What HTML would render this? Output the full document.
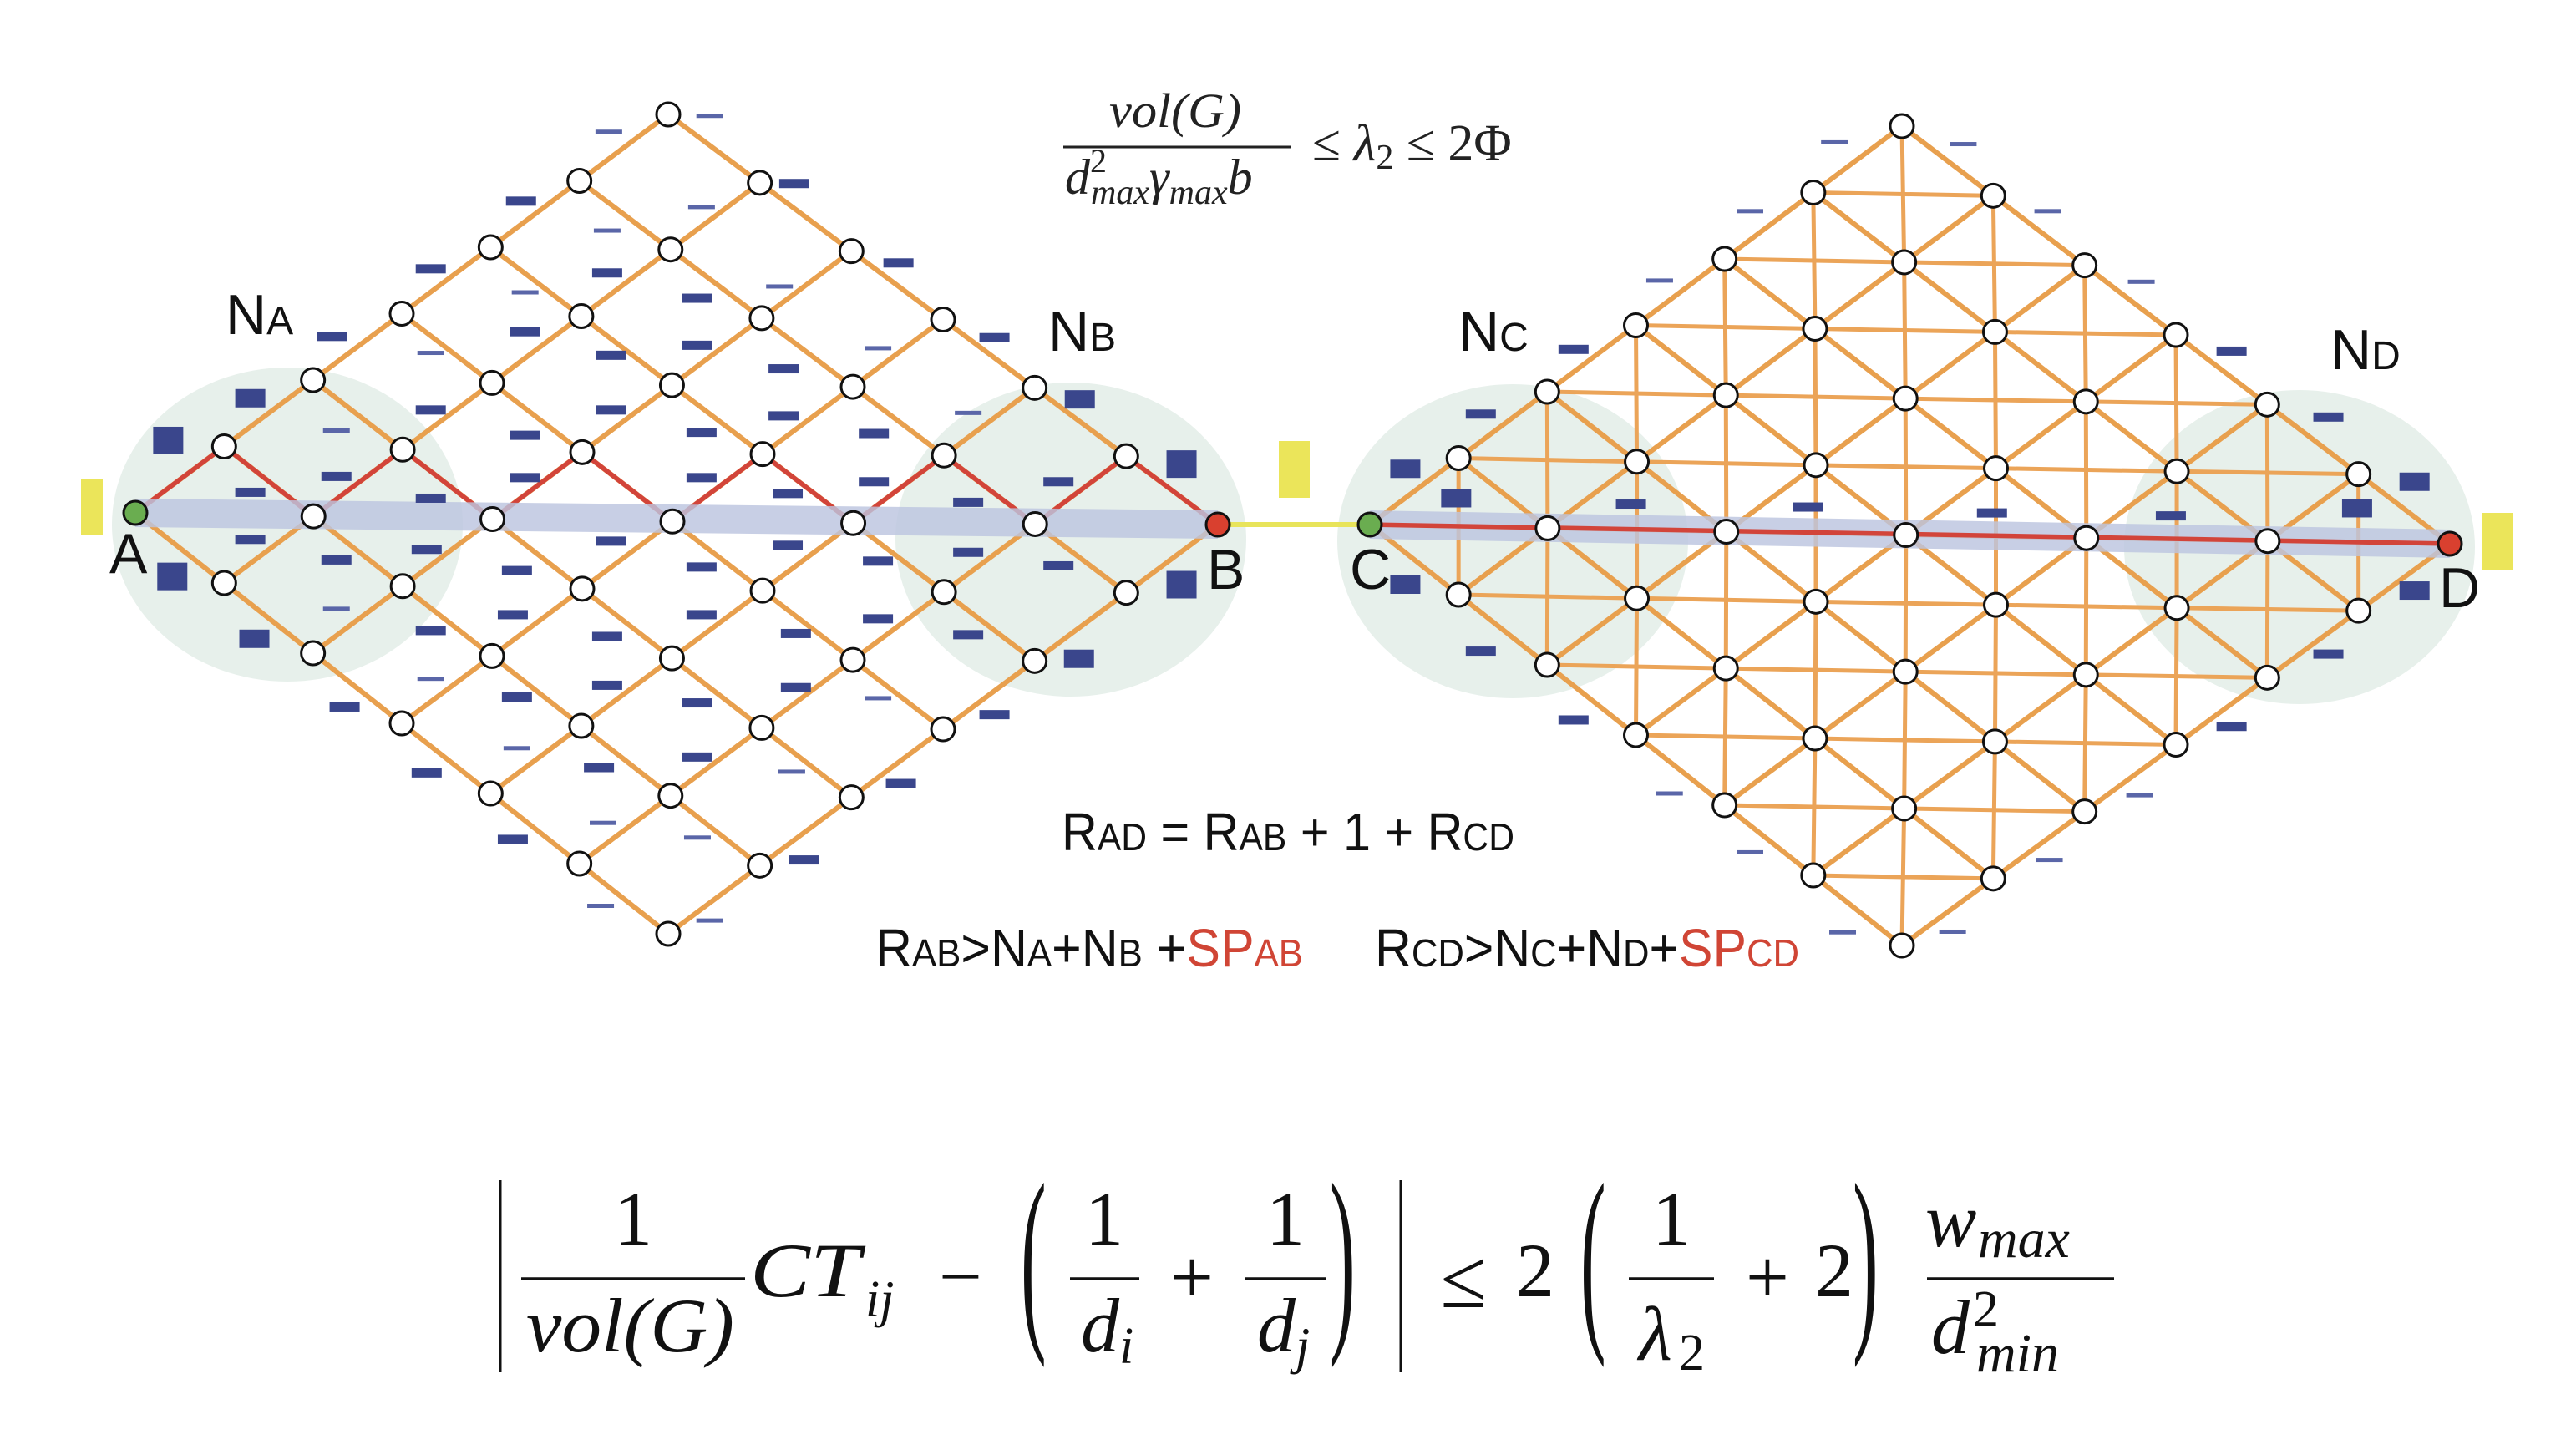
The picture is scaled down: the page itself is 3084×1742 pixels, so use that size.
<!DOCTYPE html>
<html><head><meta charset="utf-8"><style>
html,body{margin:0;padding:0;background:#fff;}
svg{display:block;}
.ser{font-family:"Liberation Serif",serif;}
.it{font-style:italic;}
.sans{font-family:"Liberation Sans Narrow","Liberation Sans",sans-serif;}
</style></head><body>
<svg id="fig" xmlns="http://www.w3.org/2000/svg" width="3084" height="1742" viewBox="0 0 3084 1742">
<rect width="3084" height="1742" fill="#fff"/>
<g id="bg"></g>
<g id="edges"></g>
<g id="paths"></g>
<g id="nodes"></g>
<g id="dashes"></g>

<!-- labels -->
<g class="sans" font-size="68" fill="#111">
<text x="270" y="400">N<tspan font-size="48">A</tspan></text>
<text x="1255" y="420">N<tspan font-size="48">B</tspan></text>
<text x="1746" y="420">N<tspan font-size="48">C</tspan></text>
<text x="2790" y="442">N<tspan font-size="48">D</tspan></text>
<text x="131" y="686">A</text>
<text x="1445" y="705">B</text>
<text x="1616" y="705">C</text>
<text x="2920" y="727">D</text>
</g>

<!-- top formula -->
<g class="ser" fill="#222">
<text class="it" x="1328" y="152" font-size="58" textLength="158" lengthAdjust="spacingAndGlyphs">vol(G)</text>
<line x1="1273" y1="176" x2="1546" y2="176" stroke="#222" stroke-width="3"/>
<text class="it" x="1275" y="232" font-size="60">d<tspan font-style="normal" font-size="40" dy="-26">2</tspan><tspan x="1306" dy="38" font-size="42">max</tspan><tspan dy="-12" font-size="60">γ</tspan><tspan dy="12" font-size="42">max</tspan><tspan dy="-12" font-size="60">b</tspan></text>
<text x="1571" y="192" font-size="62">≤ <tspan class="it">λ</tspan><tspan font-size="42" dy="10">2</tspan><tspan dy="-10"> ≤ 2Φ</tspan></text>
</g>

<!-- resistance text -->
<g class="sans" fill="#111">
<text x="1271" y="1018" font-size="64" textLength="542" lengthAdjust="spacingAndGlyphs">R<tspan font-size="46">AD</tspan> = R<tspan font-size="46">AB</tspan> + 1 + R<tspan font-size="46">CD</tspan></text>
<text x="1048" y="1157" font-size="64" textLength="512" lengthAdjust="spacingAndGlyphs">R<tspan font-size="46">AB</tspan>&gt;N<tspan font-size="46">A</tspan>+N<tspan font-size="46">B</tspan> +<tspan fill="#d04535">SP</tspan><tspan fill="#d04535" font-size="46">AB</tspan></text>
<text x="1646" y="1157" font-size="64" textLength="508" lengthAdjust="spacingAndGlyphs">R<tspan font-size="46">CD</tspan>&gt;N<tspan font-size="46">C</tspan>+N<tspan font-size="46">D</tspan>+<tspan fill="#d04535">SP</tspan><tspan fill="#d04535" font-size="46">CD</tspan></text>
</g>

<!-- bottom formula -->
<g class="ser" fill="#111" font-size="92">
<line x1="599" y1="1413" x2="599" y2="1643" stroke="#111" stroke-width="3"/>
<text x="758" y="1490" text-anchor="middle">1</text>
<line x1="624" y1="1531" x2="892" y2="1531" stroke="#111" stroke-width="3.5"/>
<text class="it" x="630" y="1618" textLength="249" lengthAdjust="spacingAndGlyphs">vol(G)</text>
<text class="it" x="898" y="1552" textLength="132" lengthAdjust="spacingAndGlyphs">CT</text>
<text class="it" x="1036" y="1576" font-size="62">ij</text>
<text x="1150" y="1559" text-anchor="middle">−</text>
<text transform="translate(1222,1585) scale(1,2.65)">(</text>
<text x="1322" y="1490" text-anchor="middle">1</text>
<line x1="1281" y1="1531" x2="1364" y2="1531" stroke="#111" stroke-width="3.5"/>
<text class="it" x="1294" y="1618">d</text><text class="it" x="1340" y="1632" font-size="62">i</text>
<text x="1427" y="1560" text-anchor="middle">+</text>
<text x="1539" y="1490" text-anchor="middle">1</text>
<line x1="1491" y1="1531" x2="1587" y2="1531" stroke="#111" stroke-width="3.5"/>
<text class="it" x="1505" y="1618">d</text><text class="it" x="1551" y="1632" font-size="62">j</text>
<text transform="translate(1592,1585) scale(1,2.65)">)</text>
<line x1="1677" y1="1413" x2="1677" y2="1643" stroke="#111" stroke-width="3"/>
<text x="1752" y="1565" text-anchor="middle" font-size="100">≤</text>
<text x="1838" y="1552" text-anchor="middle">2</text>
<text transform="translate(1892,1585) scale(1,2.65)">(</text>
<text x="2001" y="1490" text-anchor="middle">1</text>
<line x1="1950" y1="1531" x2="2052" y2="1531" stroke="#111" stroke-width="3.5"/>
<text class="it" x="1962" y="1628">λ</text><text x="2010" y="1640" font-size="62">2</text>
<text x="2116" y="1560" text-anchor="middle">+</text>
<text x="2196" y="1552" text-anchor="middle">2</text>
<text transform="translate(2218,1585) scale(1,2.65)">)</text>
<text class="it" x="2305" y="1492">w</text>
<text class="it" x="2368" y="1505" font-size="66">max</text>
<line x1="2307" y1="1531" x2="2531" y2="1531" stroke="#111" stroke-width="3.5"/>
<text class="it" x="2312" y="1620">d</text>
<text x="2362" y="1588" font-size="62">2</text>
<text class="it" x="2366" y="1642" font-size="66">min</text>
</g>
</svg>
<script>
// Graph structure data
const gridSize = 6; // 7x7 nodes
const leftCorners = [[162,614],[800,137],[1458,628],[800,1118]]; // A, top, B, bottom
const rightCorners = [[1640,628],[2277,151],[2933,651],[2277,1132]]; // C, top, D, bottom
const leftPathSteps = [[0,0],[1,0],[1,1],[2,1],[2,2],[3,2],[3,3],[4,3],[4,4],[5,4],[5,5],[6,5],[6,6]];
// dashes (zoom coords) [x,y,type]  type: 0 thin,1 thick,2 big,3 square
const leftDashes = [[865,55,0],[742,82,0],[968,170,1],[635,200,1],[855,210,0],[740,250,0],[740,322,1],[525,315,1],[1095,305,1],[640,355,0],[850,365,1],[950,345,0],[405,430,1],[640,422,1],[745,462,1],[850,445,1],[525,458,0],[955,485,1],[1070,450,0],[1212,432,1],[305,535,2],[525,555,1],[745,555,1],[955,565,1],[410,590,0],[640,598,1],[855,593,1],[1065,595,1],[1180,560,0],[1316,537,2],[205,607,3],[410,668,1],[525,705,1],[640,670,1],[855,670,1],[960,697,1],[1065,677,1],[1290,677,1],[1180,712,1],[1440,647,3],[305,695,1],[305,775,1],[410,810,1],[520,792,1],[745,778,1],[960,785,1],[1070,812,1],[1180,797,1],[1290,820,1],[210,838,3],[1440,852,3],[410,893,0],[630,828,1],[855,822,1],[625,903,1],[855,903,1],[525,930,1],[740,940,1],[970,935,1],[1070,910,1],[1180,937,1],[310,944,2],[1315,978,2],[420,1060,1],[525,1012,0],[630,1043,1],[740,1023,1],[850,1053,1],[970,1027,1],[1070,1045,0],[1212,1073,1],[630,1130,0],[730,1163,1],[850,1145,1],[520,1172,1],[965,1170,0],[1098,1190,1],[735,1257,0],[850,1282,0],[625,1285,1],[980,1320,1],[732,1398,0],[865,1423,0]];
const rightDashes = [[668,100,0],[825,103,0],[565,217,0],[928,217,0],[455,335,0],[1042,337,0],[350,452,1],[1152,455,1],[237,562,1],[1270,567,1],[145,655,2],[207,705,2],[420,715,1],[636,720,1],[860,730,1],[1078,735,1],[1375,677,2],[1305,722,2],[145,852,2],[1375,862,2],[237,965,1],[1270,970,1],[350,1082,1],[1152,1093,1],[467,1207,0],[1040,1210,0],[565,1307,0],[930,1320,0],[678,1443,0],[812,1442,0]];

const NS='http://www.w3.org/2000/svg';
function mk(tag, parent, attrs){const e=document.createElementNS(NS,tag);for(const k in attrs)e.setAttribute(k,attrs[k]);parent.appendChild(e);return e;}
function pos(c,u,v){const s=u/gridSize,t=v/gridSize;
 return [(1-s)*(1-t)*c[0][0]+s*(1-t)*c[1][0]+(1-s)*t*c[3][0]+s*t*c[2][0],
         (1-s)*(1-t)*c[0][1]+s*(1-t)*c[1][1]+(1-s)*t*c[3][1]+s*t*c[2][1]];}
const bg=document.getElementById('bg'),edges=document.getElementById('edges'),paths=document.getElementById('paths'),nodesG=document.getElementById('nodes'),dashG=document.getElementById('dashes');

[[344,628],[1282,646],[1811,648],[2753,655]].forEach((c,i)=>{
 const e=mk('ellipse',bg,{cx:c[0],cy:c[1],rx:210,ry:188,fill:'#e7f0eb'});
 
 
});
[[97,573,26,68],[1531,528,37,68],[2972,614,37,68]].forEach((r,i)=>{
 const e=mk('rect',bg,{x:r[0],y:r[1],width:r[2],height:r[3],fill:'#ebe55a'});
 
 
});
const br=mk('line',bg,{x1:leftCorners[2][0],y1:leftCorners[2][1],x2:rightCorners[0][0],y2:rightCorners[0][1],stroke:'#e8e45a','stroke-width':6});



function drawEdge(c,a,b,w,col){const p=pos(c,a[0],a[1]),q=pos(c,b[0],b[1]);
 const l=mk('line',edges,{x1:p[0],y1:p[1],x2:q[0],y2:q[1],stroke:col,'stroke-width':w,'stroke-linecap':'round'});
 
 }
function lattice(c,extra){
 for(let u=0;u<=gridSize;u++)for(let v=0;v<=gridSize;v++){
  if(u<gridSize)drawEdge(c,[u,v],[u+1,v],6,'#e8a04e');
  if(v<gridSize)drawEdge(c,[u,v],[u,v+1],6,'#e8a04e');
  if(extra){
   if(u<gridSize&&v<gridSize)drawEdge(c,[u,v],[u+1,v+1],5,'#eba458');
   if(u<gridSize&&v>0)drawEdge(c,[u,v],[u+1,v-1],5,'#eba458');
  }
 }
}
lattice(leftCorners,false);
lattice(rightCorners,true);

const zz=leftPathSteps.map(s=>pos(leftCorners,s[0],s[1]).join(',')).join(' ');
const rz=mk('polyline',paths,{points:zz,fill:'none',stroke:'#d2443a','stroke-width':5.5,'stroke-linejoin':'round'});


function band(c){const p=c[0],q=c[2];
 const b=mk('line',paths,{x1:p[0],y1:p[1],x2:q[0],y2:q[1],stroke:'#bcc5df','stroke-opacity':0.82,'stroke-width':34});
 
 }
band(leftCorners);band(rightCorners);
const rl=mk('line',paths,{x1:rightCorners[0][0],y1:rightCorners[0][1],x2:rightCorners[2][0],y2:rightCorners[2][1],stroke:'#d2443a','stroke-width':5.5});



function drawNodes(c,startCol,endCol){
 for(let u=0;u<=gridSize;u++)for(let v=0;v<=gridSize;v++){
  const p=pos(c,u,v);let f='#fff';
  if(u===0&&v===0)f=startCol;else if(u===gridSize&&v===gridSize)f=endCol;
  const n=mk('circle',nodesG,{cx:p[0],cy:p[1],r:14,fill:f,stroke:'#111','stroke-width':3});
  
  
 }
}
drawNodes(leftCorners,'#6aad50','#d9402f');
drawNodes(rightCorners,'#6aad50','#d9402f');

const dsz=[[32,5],[36,11],[36,22],[36,33]];
function drawDashes(list,ox){
 list.forEach(d=>{const x=ox+d[0]/1.018,y=100+d[1]/1.42,s=dsz[d[2]];
  const r=mk('rect',dashG,{x:x-s[0]/2,y:y-s[1]/2,width:s[0],height:s[1],fill:d[2]===0?'#5a66a8':'#3a468c'});
  
  
 });
}
drawDashes(leftDashes,0);
drawDashes(rightDashes,1540);
</script>
</body></html>
